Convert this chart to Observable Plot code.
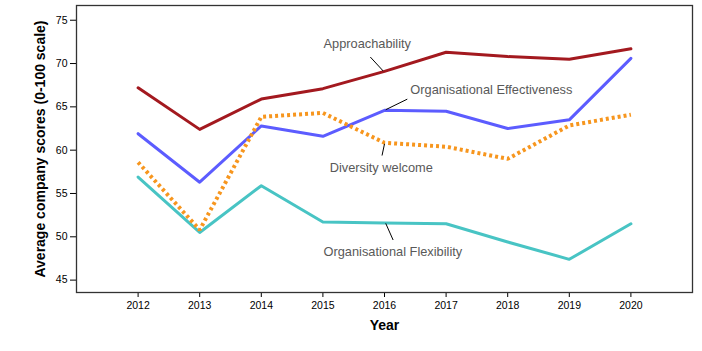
<!DOCTYPE html>
<html><head><meta charset="utf-8">
<script src="https://cdn.jsdelivr.net/npm/d3@7"></script>
<script src="https://cdn.jsdelivr.net/npm/@observablehq/plot@0.6"></script>
<style>body{margin:0;background:#fff}</style>
</head><body><div id="chart"></div>
<script>
const years = [2012, 2013, 2014, 2015, 2016, 2017, 2018, 2019, 2020];
const approachability = [67.2, 62.4, 65.9, 67.1, 69.1, 71.3, 70.8, 70.5, 71.7];
const effectiveness   = [61.9, 56.3, 62.8, 61.6, 64.6, 64.5, 62.5, 63.5, 70.6];
const diversity       = [58.6, 50.8, 63.85, 64.3, 60.85, 60.4, 59.0, 62.85, 64.1];
const flexibility     = [56.9, 50.5, 55.9, 51.7, 51.6, 51.5, 49.4, 47.4, 51.5];
const yTicks = [45, 50, 55, 60, 65, 70, 75];

const seriesNames = ["Approachability", "Organisational Effectiveness", "Diversity welcome", "Organisational Flexibility"];
const seriesColors = ["#a3191f", "#5c5cff", "#f7961e", "#48c4c4"];

// annotation label anchors (year, score) and leader lines
const labelX = [2015.01, 2016.42, 2015.11, 2015.01];
const labelY = [72.22, 66.98, 57.99, 48.31];
const leaderX1 = [2015.77, 2016.37, 2015.96, 2016.02];
const leaderY1 = [70.75, 65.89, 59.38, 51.55];
const leaderX2 = [2015.98, 2016.02, 2016.0, 2016.14];
const leaderY2 = [69.13, 64.67, 60.73, 49.63];

const mk = (vals) => years.map((y, i) => ({year: y, value: vals[i]}));
const labels = seriesNames.map((n, i) => ({name: n, x: labelX[i], y: labelY[i]}));
const leaders = seriesNames.map((n, i) => ({x1: leaderX1[i], y1: leaderY1[i], x2: leaderX2[i], y2: leaderY2[i]}));

const chart = Plot.plot({
  width: 702,
  height: 351,
  marginLeft: 76,
  marginRight: 10,
  marginTop: 5,
  marginBottom: 59,
  style: {fontFamily: "'Liberation Sans', Arial, sans-serif", fontSize: "10.5px", color: "#000", background: "#fff"},
  x: {domain: [2011, 2021], ticks: years, tickFormat: d => String(d), tickSize: 5, label: null},
  y: {domain: [43.57, 76.7], ticks: yTicks, tickSize: 6, label: null},
  marks: [
    Plot.line(mk(flexibility), {x: "year", y: "value", stroke: seriesColors[3], strokeWidth: 3}),
    Plot.line(mk(effectiveness), {x: "year", y: "value", stroke: seriesColors[1], strokeWidth: 3}),
    Plot.line(mk(approachability), {x: "year", y: "value", stroke: seriesColors[0], strokeWidth: 3}),
    Plot.line(mk(diversity), {x: "year", y: "value", stroke: seriesColors[2], strokeWidth: 4, strokeDasharray: "3,3", strokeLinecap: "butt", strokeLinejoin: "miter"}),
    Plot.link(leaders, {x1: "x1", y1: "y1", x2: "x2", y2: "y2", stroke: "#000", strokeWidth: 1}),
    Plot.text(labels, {x: "x", y: "y", text: "name", textAnchor: "start", fill: "#595959", fontSize: 12.8}),
    Plot.frame({stroke: "#333", strokeWidth: 1.3}),
    Plot.text(["Average company scores (0-100 scale)"], {frameAnchor: "left", dx: -36, rotate: -90, textAnchor: "middle", text: d => d, fontSize: 14, fontWeight: "bold", fill: "#000"}),
    Plot.text(["Year"], {frameAnchor: "bottom", dy: 37, text: d => d, fontSize: 14, fontWeight: "bold", fill: "#000"})
  ]
});
document.getElementById("chart").appendChild(chart);
</script>
</body></html>
